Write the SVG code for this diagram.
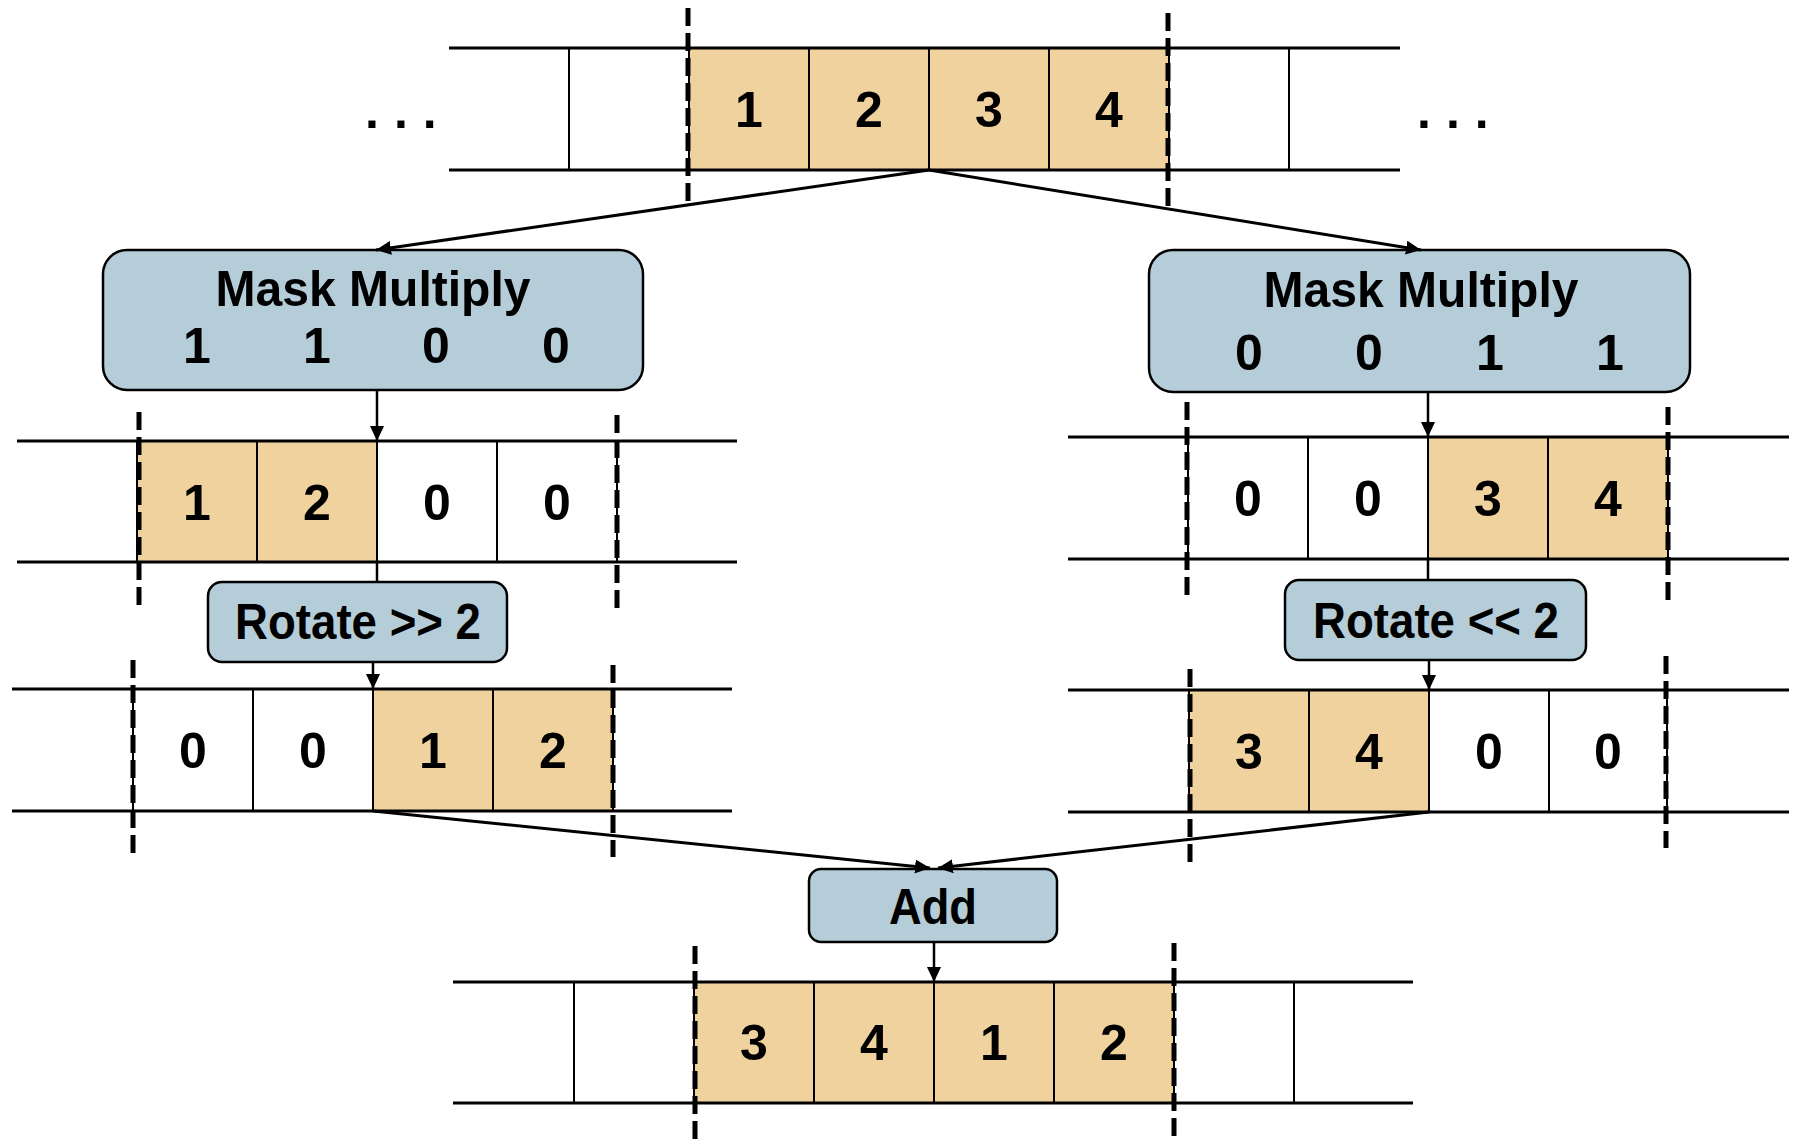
<svg xmlns="http://www.w3.org/2000/svg" width="1796" height="1139" viewBox="0 0 1796 1139">
  <style>
    .rail { stroke: #000; stroke-width: 3; fill: none; }
    .div { stroke: #000; stroke-width: 2; fill: none; }
    .hl { fill: #EFD29D; }
    .bound { stroke: #000; stroke-width: 5; stroke-dasharray: 18 7; fill: none; }
    .node { fill: #B4CDD8; stroke: #000; stroke-width: 2.5; }
    .txt { font-family: "Liberation Sans", Arial, sans-serif; font-weight: bold; fill: #000; }
    .num { font-size: 50px; text-anchor: middle; }
    .lbl { font-size: 50px; text-anchor: middle; }
    .dots { font-size: 50px; letter-spacing: 15px; }
    .conn { stroke: #000; stroke-width: 3; fill: none; }
    .conn-v { stroke: #000; stroke-width: 2.5; fill: none; }
  </style>
  <defs>
    <marker id="head" markerUnits="userSpaceOnUse" markerWidth="16" markerHeight="14" refX="15" refY="7" orient="auto">
      <path d="M0,0 L15,7 L0,14 z" fill="#000"/>
    </marker>
  </defs>

  <rect width="1796" height="1139" fill="#fff"/>

  <!-- input vector -->
  <g id="row-input">
    <rect class="hl" x="689" y="48" width="480" height="122"/>
    <line class="rail" x1="449" y1="48" x2="1400" y2="48"/>
    <line class="rail" x1="449" y1="170" x2="1400" y2="170"/>
    <line class="div" x1="569" y1="48" x2="569" y2="170"/>
    <line class="div" x1="689" y1="48" x2="689" y2="170"/>
    <line class="div" x1="809" y1="48" x2="809" y2="170"/>
    <line class="div" x1="929" y1="48" x2="929" y2="170"/>
    <line class="div" x1="1049" y1="48" x2="1049" y2="170"/>
    <line class="div" x1="1169" y1="48" x2="1169" y2="170"/>
    <line class="div" x1="1289" y1="48" x2="1289" y2="170"/>
    <line class="bound" x1="688" y1="8" x2="688" y2="204"/>
    <line class="bound" x1="1168" y1="13" x2="1168" y2="208"/>
    <text class="txt num" x="749" y="127">1</text>
    <text class="txt num" x="869" y="127">2</text>
    <text class="txt num" x="989" y="127">3</text>
    <text class="txt num" x="1109" y="127">4</text>
    <text class="txt dots" x="365" y="128">...</text>
    <text class="txt dots" x="1417" y="128">...</text>
  </g>

  <!-- mask multiply, left branch -->
  <g id="mask-a">
    <rect class="node" x="103" y="250" width="540" height="140" rx="24"/>
    <text class="txt lbl" x="373" y="306" textLength="315" lengthAdjust="spacingAndGlyphs">Mask Multiply</text>
    <text class="txt num" x="197" y="363">1</text>
    <text class="txt num" x="317" y="363">1</text>
    <text class="txt num" x="436" y="363">0</text>
    <text class="txt num" x="556" y="363">0</text>
  </g>

  <!-- mask multiply, right branch -->
  <g id="mask-b">
    <rect class="node" x="1149" y="250" width="541" height="142" rx="24"/>
    <text class="txt lbl" x="1421" y="307" textLength="315" lengthAdjust="spacingAndGlyphs">Mask Multiply</text>
    <text class="txt num" x="1249" y="370">0</text>
    <text class="txt num" x="1369" y="370">0</text>
    <text class="txt num" x="1490" y="370">1</text>
    <text class="txt num" x="1610" y="370">1</text>
  </g>

  <!-- masked vector, left branch -->
  <g id="row-masked-a">
    <rect class="hl" x="137" y="441" width="240" height="121"/>
    <line class="rail" x1="17" y1="441" x2="737" y2="441"/>
    <line class="rail" x1="17" y1="562" x2="737" y2="562"/>
    <line class="div" x1="137" y1="441" x2="137" y2="562"/>
    <line class="div" x1="257" y1="441" x2="257" y2="562"/>
    <line class="div" x1="377" y1="441" x2="377" y2="562"/>
    <line class="div" x1="497" y1="441" x2="497" y2="562"/>
    <line class="div" x1="617" y1="441" x2="617" y2="562"/>
    <line class="bound" x1="139" y1="412" x2="139" y2="605"/>
    <line class="bound" x1="617" y1="415" x2="617" y2="608"/>
    <text class="txt num" x="197" y="520">1</text>
    <text class="txt num" x="317" y="520">2</text>
    <text class="txt num" x="437" y="520">0</text>
    <text class="txt num" x="557" y="520">0</text>
  </g>

  <!-- masked vector, right branch -->
  <g id="row-masked-b">
    <rect class="hl" x="1428" y="437" width="240" height="122"/>
    <line class="rail" x1="1068" y1="437" x2="1789" y2="437"/>
    <line class="rail" x1="1068" y1="559" x2="1789" y2="559"/>
    <line class="div" x1="1188" y1="437" x2="1188" y2="559"/>
    <line class="div" x1="1308" y1="437" x2="1308" y2="559"/>
    <line class="div" x1="1428" y1="437" x2="1428" y2="559"/>
    <line class="div" x1="1548" y1="437" x2="1548" y2="559"/>
    <line class="div" x1="1668" y1="437" x2="1668" y2="559"/>
    <line class="bound" x1="1187" y1="402" x2="1187" y2="595"/>
    <line class="bound" x1="1668" y1="407" x2="1668" y2="600"/>
    <text class="txt num" x="1248" y="516">0</text>
    <text class="txt num" x="1368" y="516">0</text>
    <text class="txt num" x="1488" y="516">3</text>
    <text class="txt num" x="1608" y="516">4</text>
  </g>

  <!-- rotate nodes -->
  <g id="rotate-a">
    <rect class="node" x="208" y="582" width="299" height="80" rx="14"/>
    <text class="txt lbl" x="358" y="639" textLength="246" lengthAdjust="spacingAndGlyphs">Rotate &gt;&gt; 2</text>
  </g>
  <g id="rotate-b">
    <rect class="node" x="1285" y="580" width="301" height="80" rx="14"/>
    <text class="txt lbl" x="1436" y="638" textLength="246" lengthAdjust="spacingAndGlyphs">Rotate &lt;&lt; 2</text>
  </g>

  <!-- rotated vector, left branch -->
  <g id="row-rotated-a">
    <rect class="hl" x="373" y="689" width="240" height="122"/>
    <line class="rail" x1="12" y1="689" x2="732" y2="689"/>
    <line class="rail" x1="12" y1="811" x2="732" y2="811"/>
    <line class="div" x1="133" y1="689" x2="133" y2="811"/>
    <line class="div" x1="253" y1="689" x2="253" y2="811"/>
    <line class="div" x1="373" y1="689" x2="373" y2="811"/>
    <line class="div" x1="493" y1="689" x2="493" y2="811"/>
    <line class="div" x1="613" y1="689" x2="613" y2="811"/>
    <line class="bound" x1="133" y1="660" x2="133" y2="855"/>
    <line class="bound" x1="613" y1="665" x2="613" y2="857"/>
    <text class="txt num" x="193" y="768">0</text>
    <text class="txt num" x="313" y="768">0</text>
    <text class="txt num" x="433" y="768">1</text>
    <text class="txt num" x="553" y="768">2</text>
  </g>

  <!-- rotated vector, right branch -->
  <g id="row-rotated-b">
    <rect class="hl" x="1189" y="690" width="240" height="122"/>
    <line class="rail" x1="1068" y1="690" x2="1789" y2="690"/>
    <line class="rail" x1="1068" y1="812" x2="1789" y2="812"/>
    <line class="div" x1="1189" y1="690" x2="1189" y2="812"/>
    <line class="div" x1="1309" y1="690" x2="1309" y2="812"/>
    <line class="div" x1="1429" y1="690" x2="1429" y2="812"/>
    <line class="div" x1="1549" y1="690" x2="1549" y2="812"/>
    <line class="div" x1="1667" y1="690" x2="1667" y2="812"/>
    <line class="bound" x1="1190" y1="669" x2="1190" y2="863"/>
    <line class="bound" x1="1666" y1="656" x2="1666" y2="848"/>
    <text class="txt num" x="1249" y="769">3</text>
    <text class="txt num" x="1369" y="769">4</text>
    <text class="txt num" x="1489" y="769">0</text>
    <text class="txt num" x="1608" y="769">0</text>
  </g>

  <!-- add node -->
  <g id="add">
    <rect class="node" x="809" y="869" width="248" height="73" rx="12"/>
    <text class="txt lbl" x="933" y="924" textLength="88" lengthAdjust="spacingAndGlyphs">Add</text>
  </g>

  <!-- output vector -->
  <g id="row-output">
    <rect class="hl" x="694" y="982" width="480" height="121"/>
    <line class="rail" x1="453" y1="982" x2="1413" y2="982"/>
    <line class="rail" x1="453" y1="1103" x2="1413" y2="1103"/>
    <line class="div" x1="574" y1="982" x2="574" y2="1103"/>
    <line class="div" x1="694" y1="982" x2="694" y2="1103"/>
    <line class="div" x1="814" y1="982" x2="814" y2="1103"/>
    <line class="div" x1="934" y1="982" x2="934" y2="1103"/>
    <line class="div" x1="1054" y1="982" x2="1054" y2="1103"/>
    <line class="div" x1="1174" y1="982" x2="1174" y2="1103"/>
    <line class="div" x1="1294" y1="982" x2="1294" y2="1103"/>
    <line class="bound" x1="695" y1="946" x2="695" y2="1139"/>
    <line class="bound" x1="1174" y1="943" x2="1174" y2="1139"/>
    <text class="txt num" x="754" y="1060">3</text>
    <text class="txt num" x="874" y="1060">4</text>
    <text class="txt num" x="994" y="1060">1</text>
    <text class="txt num" x="1114" y="1060">2</text>
  </g>

  <!-- data-flow connectors -->
  <g id="connectors">
    <line class="conn" x1="929" y1="170" x2="376" y2="250" marker-end="url(#head)"/>
    <line class="conn" x1="929" y1="170" x2="1421" y2="250" marker-end="url(#head)"/>
    <line class="conn-v" x1="377" y1="390" x2="377" y2="441" marker-end="url(#head)"/>
    <line class="conn-v" x1="1428" y1="392" x2="1428" y2="437" marker-end="url(#head)"/>
    <line class="conn-v" x1="377" y1="562" x2="377" y2="582"/>
    <line class="conn-v" x1="1428" y1="559" x2="1428" y2="580"/>
    <line class="conn-v" x1="373" y1="662" x2="373" y2="689" marker-end="url(#head)"/>
    <line class="conn-v" x1="1429" y1="660" x2="1429" y2="690" marker-end="url(#head)"/>
    <line class="conn" x1="373" y1="811" x2="930" y2="868" marker-end="url(#head)"/>
    <line class="conn" x1="1429" y1="812" x2="938" y2="868" marker-end="url(#head)"/>
    <line class="conn-v" x1="934" y1="942" x2="934" y2="982" marker-end="url(#head)"/>
  </g>
</svg>
